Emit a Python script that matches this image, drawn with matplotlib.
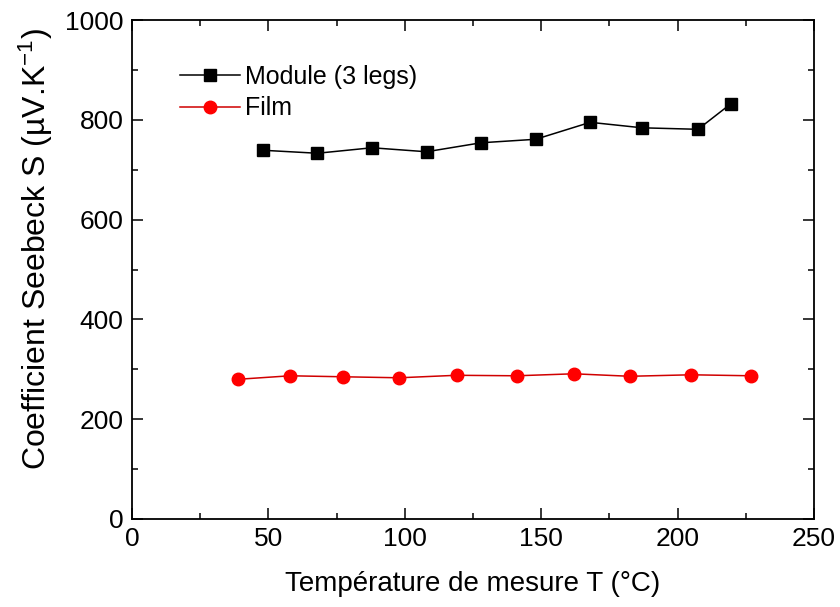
import numpy as np
import matplotlib.pyplot as plt
from matplotlib.ticker import MultipleLocator

plt.rcParams['font.family'] = ['Liberation Sans', 'DejaVu Sans']
plt.rcParams['mathtext.default'] = 'regular'

# donnees
t_module = [48, 68, 88, 108, 128, 148, 168, 187, 207.5, 219.5]
s_module = [739, 733, 744, 736, 754, 761, 795, 784, 781, 832]
t_film = [39, 58, 77.5, 98, 119, 141, 162, 182.5, 205, 227]
s_film = [280, 287, 285, 283, 288, 287, 291, 286, 289, 287]

fig = plt.figure(figsize=(8.4, 6.07), dpi=100)
ax = fig.add_axes([0.157, 0.145, 0.812, 0.822])

ax.plot(t_module, s_module, "k-", marker="s", markersize=8.5, lw=1.1,
        label="Module (3 legs)")
ax.plot(t_film, s_film, "-", color="#d00000", marker="o", markersize=9,
        markerfacecolor="#ff0000", markeredgecolor="#ff0000", lw=1.1,
        label="Film")

ax.set_xlim(0, 250)
ax.set_ylim(0, 1000)
ax.xaxis.set_major_locator(MultipleLocator(50))
ax.xaxis.set_minor_locator(MultipleLocator(25))
ax.yaxis.set_major_locator(MultipleLocator(200))
ax.yaxis.set_minor_locator(MultipleLocator(100))
ax.tick_params(which="both", direction="in", top=True, right=True,
               labelsize=19, width=1.1)
ax.tick_params(which="major", length=8, pad=6)
ax.tick_params(which="minor", length=4)
for sp in ax.spines.values():
    sp.set_linewidth(1.3)

ax.set_xlabel("Température de mesure T (°C)", fontsize=20, labelpad=14)
ax.set_ylabel("Coefficient Seebeck S (µV.K$^{-1}$)", fontsize=23)
ax.yaxis.set_label_coords(-0.113, 0.54)

ax.legend(loc="upper left", frameon=False, fontsize=18, handlelength=2.4,
          bbox_to_anchor=(0.045, 0.945), handletextpad=0.2, labelspacing=0.3,
          borderaxespad=0.3)

plt.savefig("out.png", dpi=100)
